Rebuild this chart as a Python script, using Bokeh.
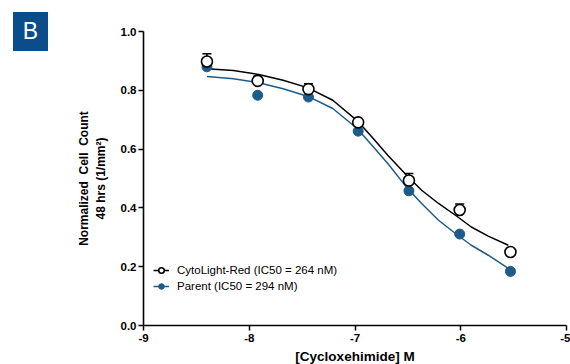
from bokeh.plotting import figure
from bokeh.layouts import column
from bokeh.models import Range1d, FixedTicker, Legend, LegendItem, Div
from bokeh.embed import file_html
from bokeh.resources import INLINE

# ---- data ----
log_conc = [-8.40, -7.92, -7.44, -6.97, -6.49, -6.01, -5.53]
cyto = [0.898, 0.832, 0.804, 0.691, 0.493, 0.393, 0.250]
cyto_err = [0.026, 0.016, 0.018, 0.008, 0.024, 0.020, 0.006]
parent = [0.880, 0.783, 0.777, 0.661, 0.458, 0.311, 0.184]

curve_x = [-8.40, -8.15, -7.91, -7.68, -7.45, -7.21, -6.98, -6.84, -6.69, -6.51,
           -6.37, -6.21, -6.05, -5.90, -5.74, -5.55]
cyto_fit = [0.873, 0.867, 0.854, 0.834, 0.809, 0.766, 0.697, 0.641, 0.579, 0.510,
            0.460, 0.415, 0.375, 0.335, 0.304, 0.273]
parent_fit = [0.847, 0.839, 0.826, 0.805, 0.780, 0.738, 0.670, 0.613, 0.551, 0.469,
              0.415, 0.358, 0.313, 0.273, 0.239, 0.194]

x_ticks = [-9, -8, -7, -6, -5]
x_tick_labels = ["-9", "-8", "-7", "-6", "-5"]
y_ticks = [0.0, 0.2, 0.4, 0.6, 0.8, 1.0]
y_tick_labels = ["0.0", "0.2", "0.4", "0.6", "0.8", "1.0"]

series_names = ["CytoLight-Red (IC50 = 264 nM)", "Parent (IC50 = 294 nM)"]
panel_letter = "B"

BLUE = "#1f5b88"
BADGE = "#0b4d8a"
FONT = "Liberation Sans"

p = figure(frame_width=423, frame_height=294, output_backend="svg",
           toolbar_location=None, min_border_left=143, min_border_right=4,
           min_border_top=31, min_border_bottom=39,
           x_range=Range1d(-9, -5), y_range=Range1d(0, 1))
p.background_fill_color = "white"
p.border_fill_color = "white"
p.outline_line_color = None
p.grid.visible = False

# axes
for ax in (p.xaxis[0], p.yaxis[0]):
    ax.axis_line_width = 1.6
    ax.axis_line_color = "black"
    ax.major_tick_line_width = 1.5
    ax.major_tick_line_color = "black"
    ax.major_tick_in = 0
    ax.major_tick_out = 5
    ax.minor_tick_line_color = None
    ax.major_label_text_font = FONT
    ax.major_label_text_font_style = "bold"
    ax.major_label_text_font_size = "11.5px"
    ax.major_label_text_color = "black"
    ax.axis_label_text_font = FONT
    ax.axis_label_text_font_style = "bold"
    ax.axis_label_text_color = "black"

p.xaxis.ticker = FixedTicker(ticks=x_ticks)
p.xaxis.major_label_overrides = dict(zip(x_ticks, x_tick_labels))
p.xaxis.major_label_standoff = 3
p.xaxis.axis_label = "[Cycloxehimide] M"
p.xaxis.axis_label_text_font_size = "13.5px"
p.xaxis.axis_label_standoff = 4

p.yaxis.ticker = FixedTicker(ticks=y_ticks)
p.yaxis.major_label_overrides = dict(zip(y_ticks, y_tick_labels))
p.yaxis.major_label_standoff = 2
p.yaxis.axis_label = "Normalized\u00a0 Cell\u00a0 Count\n48 hrs (1/mm\u00b2)"
p.yaxis.axis_label_text_font_size = "12px"
p.yaxis.axis_label_standoff = 10
p.yaxis.axis_label_text_line_height = 1.2

# fitted curves
l_parent = p.line(curve_x, parent_fit, line_color=BLUE, line_width=1.5)
l_cyto = p.line(curve_x, cyto_fit, line_color="black", line_width=1.5)

# parent points (filled)
s_parent = p.scatter(log_conc, parent, marker="circle", size=10,
                     fill_color=BLUE, line_color=BLUE)

# error bars (upper only) for CytoLight
err_top = [v + e for v, e in zip(cyto, cyto_err)]
p.segment(x0=log_conc, y0=cyto, x1=log_conc, y1=err_top, line_color="black", line_width=1.5)
p.scatter(log_conc, err_top, marker="dash", size=9, line_color="black", line_width=1.5)

# CytoLight points (open)
s_cyto = p.scatter(log_conc, cyto, marker="circle", size=11,
                   fill_color="white", line_color="black", line_width=1.6)

legend = Legend(items=[
    LegendItem(label=series_names[0], renderers=[l_cyto, s_cyto]),
    LegendItem(label=series_names[1], renderers=[l_parent, s_parent]),
], location=(10, 32))
legend.background_fill_alpha = 0
legend.border_line_color = None
legend.padding = 0
legend.margin = 0
legend.spacing = 2
legend.glyph_width = 16
legend.glyph_height = 14
legend.label_height = 14
legend.label_standoff = 8
legend.label_text_font = FONT
legend.label_text_font_size = "11.5px"
legend.label_text_color = "black"
p.add_layout(legend, "center")

# panel badge (outside the plot frame)
badge = Div(text=panel_letter, width=35, height=39,
            styles={"position": "absolute", "left": "8px", "top": "7px",
                    "background-color": BADGE, "color": "white",
                    "font-family": FONT, "font-size": "23px",
                    "text-align": "center", "line-height": "39px",
                    "z-index": "10"})

page = column(p, badge)

html = file_html(page, INLINE)
html = html.replace("<head>", "<head><style>html,body{overflow:hidden;}</style>", 1)
open("out.html", "w").write(html)
